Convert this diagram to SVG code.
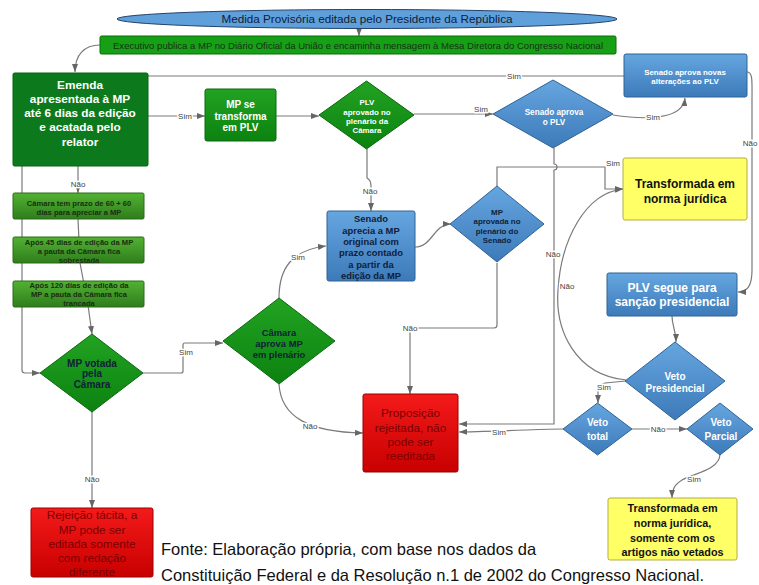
<svg xmlns="http://www.w3.org/2000/svg" width="759" height="585" viewBox="0 0 759 585">
<defs>
<linearGradient id="gBlue" x1="0" y1="0" x2="0" y2="1"><stop offset="0" stop-color="#66a6e0"/><stop offset="1" stop-color="#3c7ab9"/></linearGradient>
<linearGradient id="gGreen" x1="0" y1="0" x2="0" y2="1"><stop offset="0" stop-color="#22a322"/><stop offset="1" stop-color="#0c8210"/></linearGradient>
<linearGradient id="gLight" x1="0" y1="0" x2="0" y2="1"><stop offset="0" stop-color="#52b232"/><stop offset="1" stop-color="#2f7d1c"/></linearGradient>
<linearGradient id="gRed" x1="0" y1="0" x2="0" y2="1"><stop offset="0" stop-color="#f41a1a"/><stop offset="1" stop-color="#c80000"/></linearGradient>
<marker id="arr" markerUnits="userSpaceOnUse" markerWidth="8" markerHeight="6" refX="8" refY="3" orient="auto"><path d="M0,0 L8,3 L0,6 z" fill="#666"/></marker>
</defs>
<style>
.c{fill:none;stroke:#7a7a7a;stroke-width:1.2}
.a{marker-end:url(#arr)}
.lb{font-family:"Liberation Sans",Arial,sans-serif;font-size:8px;fill:#444;text-anchor:middle;stroke:#fff;stroke-width:3px;paint-order:stroke;stroke-linejoin:round}
.t{font-family:"Liberation Sans",Arial,sans-serif;text-anchor:middle;font-weight:bold}
.w{fill:#fff}
.k{fill:#10203a}
.dg{fill:#1a2e12}
.blue{fill:url(#gBlue);stroke:#2f6396;stroke-width:1}
.green{fill:url(#gGreen);stroke:#0a6a0e;stroke-width:1}
.light{fill:url(#gLight);stroke:#2a6a18;stroke-width:1}
.red{fill:url(#gRed);stroke:#9a0000;stroke-width:1}
.yel{fill:#ffff66;stroke:#b5ad45;stroke-width:1}
.rt{font-family:"Liberation Sans",Arial,sans-serif;text-anchor:middle;font-size:11.8px;fill:#7a0000}
</style>

<g id="connectors">
<path class="c a" d="M359,28 L359,36"/>
<path class="c a" d="M100,45 C84,45 75,55 75,72"/>
<path class="c a" d="M148,116 L205,116"/>
<text class="lb" x="185" y="119">Sim</text>
<path class="c a" d="M276,116 L319,116"/>
<path class="c a" d="M414,114 L493,114"/>
<text class="lb" x="481" y="112">Sim</text>
<path class="c a" d="M367,149 L367,178 Q371,180 371,186 L371,211"/>
<text class="lb" x="370" y="194">Não</text>
<path class="c" d="M624,76 L148,76"/>
<text class="lb" x="514" y="79">Sim</text>
<path class="c a" d="M613,115 C645,120 683,120 685,98"/>
<text class="lb" x="653" y="120">Sim</text>
<path class="c a" d="M747,72 C753,72 752,82 752,100 L752,270 C752,285 748,292 738,292"/>
<text class="lb" x="750" y="146">Não</text>
<path class="c a" d="M554,148 L554,164 A3,3 0 0 1 554,170 L554,424 L459,424"/>
<text class="lb" x="553" y="257">Não</text>
<path class="c a" d="M497,186 L497,167 L605,167 L605,189 L623,189"/>
<text class="lb" x="613" y="166">Sim</text>
<path class="c a" d="M497,263 L497,325 Q497,328 494,328 L413,328 Q410,328 410,331 L410,394"/>
<text class="lb" x="410" y="331">Não</text>
<path class="c a" d="M415,247 C432,247 434,224 451,224"/>
<path class="c a" d="M279,298 C279,268 292,250 326,246"/>
<text class="lb" x="298" y="260">Sim</text>
<path class="c a" d="M279,384 C281,418 310,432 363,433"/>
<text class="lb" x="310" y="429">Não</text>
<path class="c a" d="M143,373 L181,373 Q183,373 183,371 L183,345 Q183,343 185,343 L223,343"/>
<text class="lb" x="186" y="355">Sim</text>
<path class="c a" d="M92,412 L92,508"/>
<text class="lb" x="92" y="482">Não</text>
<path class="c a" d="M78,166 L78,193"/>
<text class="lb" x="78" y="187">Não</text>
<path class="c a" d="M78,219 L80,263 L88,305 L92,334"/>
<path class="c a" d="M22,166 L22,370 Q22,373 25,373 L40,373"/>
<path class="c a" d="M672,316 C672,326 676,330 676,342"/>
<path class="c a" d="M626,380 C575,375 555,330 558,290 C561,240 585,193 623,189"/>
<text class="lb" x="567" y="289">Não</text>
<path class="c a" d="M626,381 L605,383 Q598,385 598,393 L598,403"/>
<text class="lb" x="604" y="390">Sim</text>
<path class="c a" d="M563,429 C540,429 515,431 459,432"/>
<text class="lb" x="499" y="435">Sim</text>
<path class="c a" d="M632,429 L687,429"/>
<text class="lb" x="658" y="432">Não</text>
<path class="c a" d="M720,454 C720,470 692,474 682,480 C674,485 672,490 672,498"/>
<text class="lb" x="694" y="482">Sim</text>
</g>

<g id="n-medida">
<ellipse cx="367" cy="19" rx="250" ry="9.5" fill="#5f9fda" stroke="#24436e" stroke-width="1"/>
<text class="t" x="367" y="23" style="font-weight:normal;font-size:11.7px;fill:#0e1d3a">Medida Provisória editada pelo Presidente da República</text>
</g>
<g id="n-executivo">
<rect x="100" y="36" width="516" height="18" rx="1.5" fill="#16a016" stroke="#0a6a0a"/>
<text class="t" x="358" y="48.5" textLength="490" lengthAdjust="spacingAndGlyphs" style="font-weight:normal;font-size:9.2px;fill:#163016">Executivo publica a MP no Diário Oficial da União e encaminha mensagem à Mesa Diretora do Congresso Nacional</text>
</g>
<g id="n-emenda">
<rect x="13" y="73" width="135" height="93" rx="1.5" fill="#0c7a1c" stroke="#086014"/>
<text class="t w" style="font-size:11.8px"><tspan x="80" y="89">Emenda</tspan><tspan x="80" y="103">apresentada à MP</tspan><tspan x="80" y="117">até 6 dias da edição</tspan><tspan x="80" y="131">e acatada pelo</tspan><tspan x="80" y="146">relator</tspan></text>
</g>
<g id="n-mpse">
<rect x="205" y="89" width="71" height="52" rx="2" class="green"/>
<text class="t w" style="font-size:10px"><tspan x="240.5" y="108">MP se</tspan><tspan x="240.5" y="120">transforma</tspan><tspan x="240.5" y="131">em PLV</tspan></text>
</g>
<g id="n-plvcamara">
<path d="M366.5,81 L414,115 L366.5,149 L319,115 z" class="green"/>
<text class="t w" style="font-size:7.9px"><tspan x="367" y="105">PLV</tspan><tspan x="367" y="115">aprovado no</tspan><tspan x="367" y="124">plenário da</tspan><tspan x="367" y="133">Câmara</tspan></text>
</g>
<g id="n-senadoplv">
<path d="M553,80 L613,114 L553,148 L493,114 z" class="blue"/>
<text class="t w" style="font-size:8.2px"><tspan x="554" y="115">Senado aprova</tspan><tspan x="554" y="125">o PLV</tspan></text>
</g>
<g id="n-senadonovas">
<rect x="624" y="54" width="123" height="43" rx="2" class="blue"/>
<text class="t w" style="font-size:7.9px"><tspan x="685" y="75">Senado aprova novas</tspan><tspan x="685" y="84">alterações ao PLV</tspan></text>
</g>
<g id="n-transf1">
<rect x="623" y="158" width="124" height="62" rx="2" class="yel"/>
<text class="t" style="font-size:12px;fill:#111"><tspan x="685" y="188">Transformada em</tspan><tspan x="685" y="203">norma jurídica</tspan></text>
</g>
<g id="n-prazo">
<rect x="13" y="193" width="131" height="26" rx="1.5" class="light"/>
<text class="t dg" style="font-size:7.6px"><tspan x="79" y="206">Câmara tem prazo de 60 + 60</tspan><tspan x="79" y="215">dias para apreciar a MP</tspan></text>
</g>
<g id="n-45dias">
<rect x="13" y="237" width="131" height="26" rx="1.5" class="light"/>
<text class="t dg" style="font-size:7.6px"><tspan x="79" y="245">Após 45 dias de edição da MP</tspan><tspan x="79" y="254">a pauta da Câmara fica</tspan><tspan x="79" y="263">sobrestada</tspan></text>
</g>
<g id="n-120dias">
<rect x="13" y="281" width="131" height="26" rx="1.5" class="light"/>
<text class="t dg" style="font-size:7.6px"><tspan x="79" y="288">Após 120 dias de edição da</tspan><tspan x="79" y="297">MP a pauta da Câmara fica</tspan><tspan x="79" y="306">trancada</tspan></text>
</g>
<g id="n-senadoaprecia">
<rect x="327" y="211" width="88" height="70" rx="2" class="blue"/>
<text class="t k" style="font-size:9.4px"><tspan x="371" y="221.5">Senado</tspan><tspan x="371" y="233.5">aprecia a MP</tspan><tspan x="371" y="244.5">original com</tspan><tspan x="371" y="256">prazo contado</tspan><tspan x="371" y="267.5">a partir da</tspan><tspan x="371" y="279">edição da MP</tspan></text>
</g>
<g id="n-mpsenado">
<path d="M497,186 L544,224 L497,262 L450,224 z" class="blue"/>
<text class="t k" style="font-size:7.9px"><tspan x="497" y="215">MP</tspan><tspan x="497" y="224">aprovada no</tspan><tspan x="497" y="234">plenário do</tspan><tspan x="497" y="243">Senado</tspan></text>
</g>
<g id="n-plvsegue">
<rect x="607" y="273" width="130" height="43" rx="2" class="blue"/>
<text class="t w" style="font-size:12px"><tspan x="672" y="292">PLV segue para</tspan><tspan x="672" y="306">sanção presidencial</tspan></text>
</g>
<g id="n-votada">
<path d="M92,334 L143,373 L92,412 L40,373 z" class="green"/>
<text class="t k" style="font-size:10px"><tspan x="92" y="367">MP votada</tspan><tspan x="92" y="377">pela</tspan><tspan x="92" y="388">Câmara</tspan></text>
</g>
<g id="n-camaraaprova">
<path d="M279,298 L335,341 L279,384 L223,341 z" class="green"/>
<text class="t k" style="font-size:9.4px"><tspan x="279" y="335.5">Câmara</tspan><tspan x="279" y="346.5">aprova MP</tspan><tspan x="279" y="357.5">em plenário</tspan></text>
</g>
<g id="n-vetopres">
<path d="M675,342 L725,381 L675,420 L625,381 z" class="blue"/>
<text class="t w" style="font-size:10px"><tspan x="675" y="380">Veto</tspan><tspan x="675" y="392">Presidencial</tspan></text>
</g>
<g id="n-vetototal">
<path d="M597.5,403 L632,429 L597.5,455 L563,429 z" class="blue"/>
<text class="t w" style="font-size:10px"><tspan x="597.5" y="426">Veto</tspan><tspan x="597.5" y="440">total</tspan></text>
</g>
<g id="n-vetoparcial">
<path d="M720,403 L753,429 L720,455 L687,429 z" class="blue"/>
<text class="t w" style="font-size:10px"><tspan x="721" y="426">Veto</tspan><tspan x="721" y="440">Parcial</tspan></text>
</g>
<g id="n-proposicao">
<rect x="363" y="394" width="95" height="78" rx="2" class="red"/>
<text class="rt"><tspan x="410.5" y="417">Proposição</tspan><tspan x="410.5" y="432">rejeitada, não</tspan><tspan x="410.5" y="446">pode ser</tspan><tspan x="410.5" y="460">reeditada</tspan></text>
</g>
<g id="n-rejeicao">
<rect x="31" y="508" width="122" height="69" rx="2" class="red"/>
<text class="rt"><tspan x="92" y="519">Rejeição tácita, a</tspan><tspan x="92" y="534">MP pode ser</tspan><tspan x="92" y="548">editada somente</tspan><tspan x="92" y="562">com redação</tspan><tspan x="92" y="576">diferente</tspan></text>
</g>
<g id="n-transf2">
<rect x="608" y="498" width="129" height="62" rx="2" class="yel"/>
<text class="t" style="font-size:10.8px;fill:#111"><tspan x="672.5" y="512">Transformada em</tspan><tspan x="672.5" y="527">norma jurídica,</tspan><tspan x="672.5" y="542">somente com os</tspan><tspan x="672.5" y="556">artigos não vetados</tspan></text>
</g>
<g id="caption" style="font-family:'Liberation Sans',Arial,sans-serif;font-size:16.5px;fill:#111">
<text x="161" y="555">Fonte: Elaboração própria, com base nos dados da</text>
<text x="161" y="581">Constituição Federal e da Resolução n.1 de 2002 do Congresso Nacional.</text>
</g>
</svg>
